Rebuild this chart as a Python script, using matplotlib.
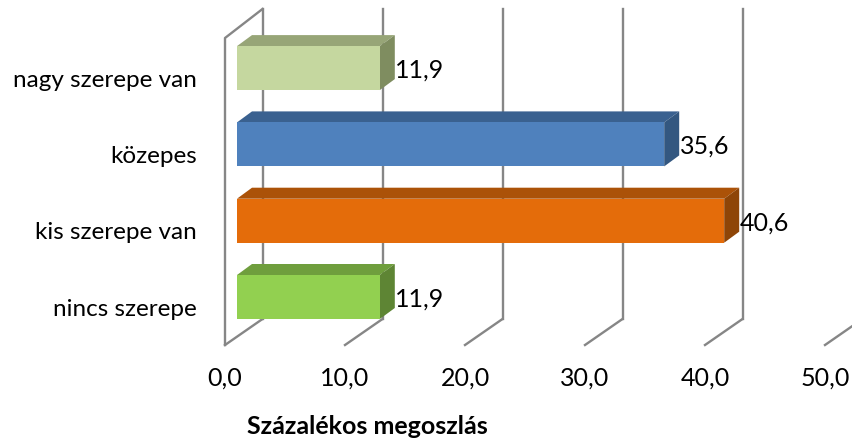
import matplotlib
matplotlib.use('Agg')
import matplotlib.pyplot as plt
from matplotlib.patches import Polygon

plt.rcParams['font.family'] = ['Lato', 'DejaVu Sans']

# data, bottom category first
categories = ['nincs szerepe', 'kis szerepe van', 'közepes', 'nagy szerepe van']
values = [11.9, 40.6, 35.6, 11.9]
value_labels = ['11,9', '40,6', '35,6', '11,9']
ticks = [0, 10, 20, 30, 40, 50]
tick_labels = ['0,0', '10,0', '20,0', '30,0', '40,0', '50,0']
xlabel = 'Százalékos megoszlás'

front_colors = ['#92D050', '#E46C0A', '#4F81BD', '#C5D79F']
top_colors = ['#6F9E3D', '#AB5208', '#3A6190', '#97A577']
side_colors = ['#5E8534', '#8E4507', '#335780', '#7F8D60']
grid_color = '#868686'

W, H = 852, 440
PX_X = 12.0     # pixels per percent
PX_Y = 76.3     # pixels per category
X0 = 237        # pixel of value 0 on the bar front
Y0 = 297        # pixel of first category centre

fig = plt.figure(figsize=(W / 100, H / 100), dpi=100)
ax = fig.add_axes([0, 0, 1, 1])
ax.set_xlim(-X0 / PX_X, (W - X0) / PX_X)
ax.set_ylim((Y0 - H) / PX_Y, Y0 / PX_Y)
ax.axis('off')


# helpers to give 3d offsets in pixels
def dx(px):
    return px / PX_X


def dy(px):
    return px / PX_Y


# walls and gridlines
y_floor_front = dy(Y0 - 345)
y_floor_back = dy(Y0 - 319)
y_top_back = dy(Y0 - 9)
y_top_front = dy(Y0 - 38)
for t, label in zip(ticks, tick_labels):
    x_front = t + dx(-12)
    x_back = t + dx(25.5)
    ax.plot([x_front, x_back], [y_floor_front, y_floor_back], color=grid_color, lw=1.7, zorder=1)
    ax.plot([x_back, x_back], [y_floor_back, y_top_back], color=grid_color, lw=1.7, zorder=1)
    ax.text(t + dx(-12), dy(Y0 - 378), label, ha='center', va='center',
            fontsize=18, color='black', clip_on=False)
ax.plot([dx(-12), dx(-12), dx(25.5)], [y_floor_front, y_top_front, y_top_back],
        color=grid_color, lw=1.7, zorder=1)

# bars
half = dy(22)
for i, v in enumerate(values):
    bot, top = i - half, i + half
    ox, oy = dx(15), dy(11)
    ax.add_patch(Polygon([(0, top), (v, top), (v + ox, top + oy), (ox, top + oy)],
                         facecolor=top_colors[i], edgecolor='none', zorder=3))
    ax.add_patch(Polygon([(v, bot), (v + ox, bot + oy), (v + ox, top + oy), (v, top)],
                         facecolor=side_colors[i], edgecolor='none', zorder=3))
    ax.barh(i, v, height=2 * half, color=front_colors[i], zorder=4)
    ax.text(v + dx(15.5), i - dy(2), value_labels[i], ha='left', va='center',
            fontsize=18, color='black', zorder=5)
    ax.text(dx(-40), i - dy(12), categories[i], ha='right', va='center',
            fontsize=17.5, color='black')

ax.text(dx(130), dy(Y0 - 426), xlabel, ha='center', va='center',
        fontsize=18, fontweight='bold', color='black')

fig.savefig('out.png', dpi=100)
